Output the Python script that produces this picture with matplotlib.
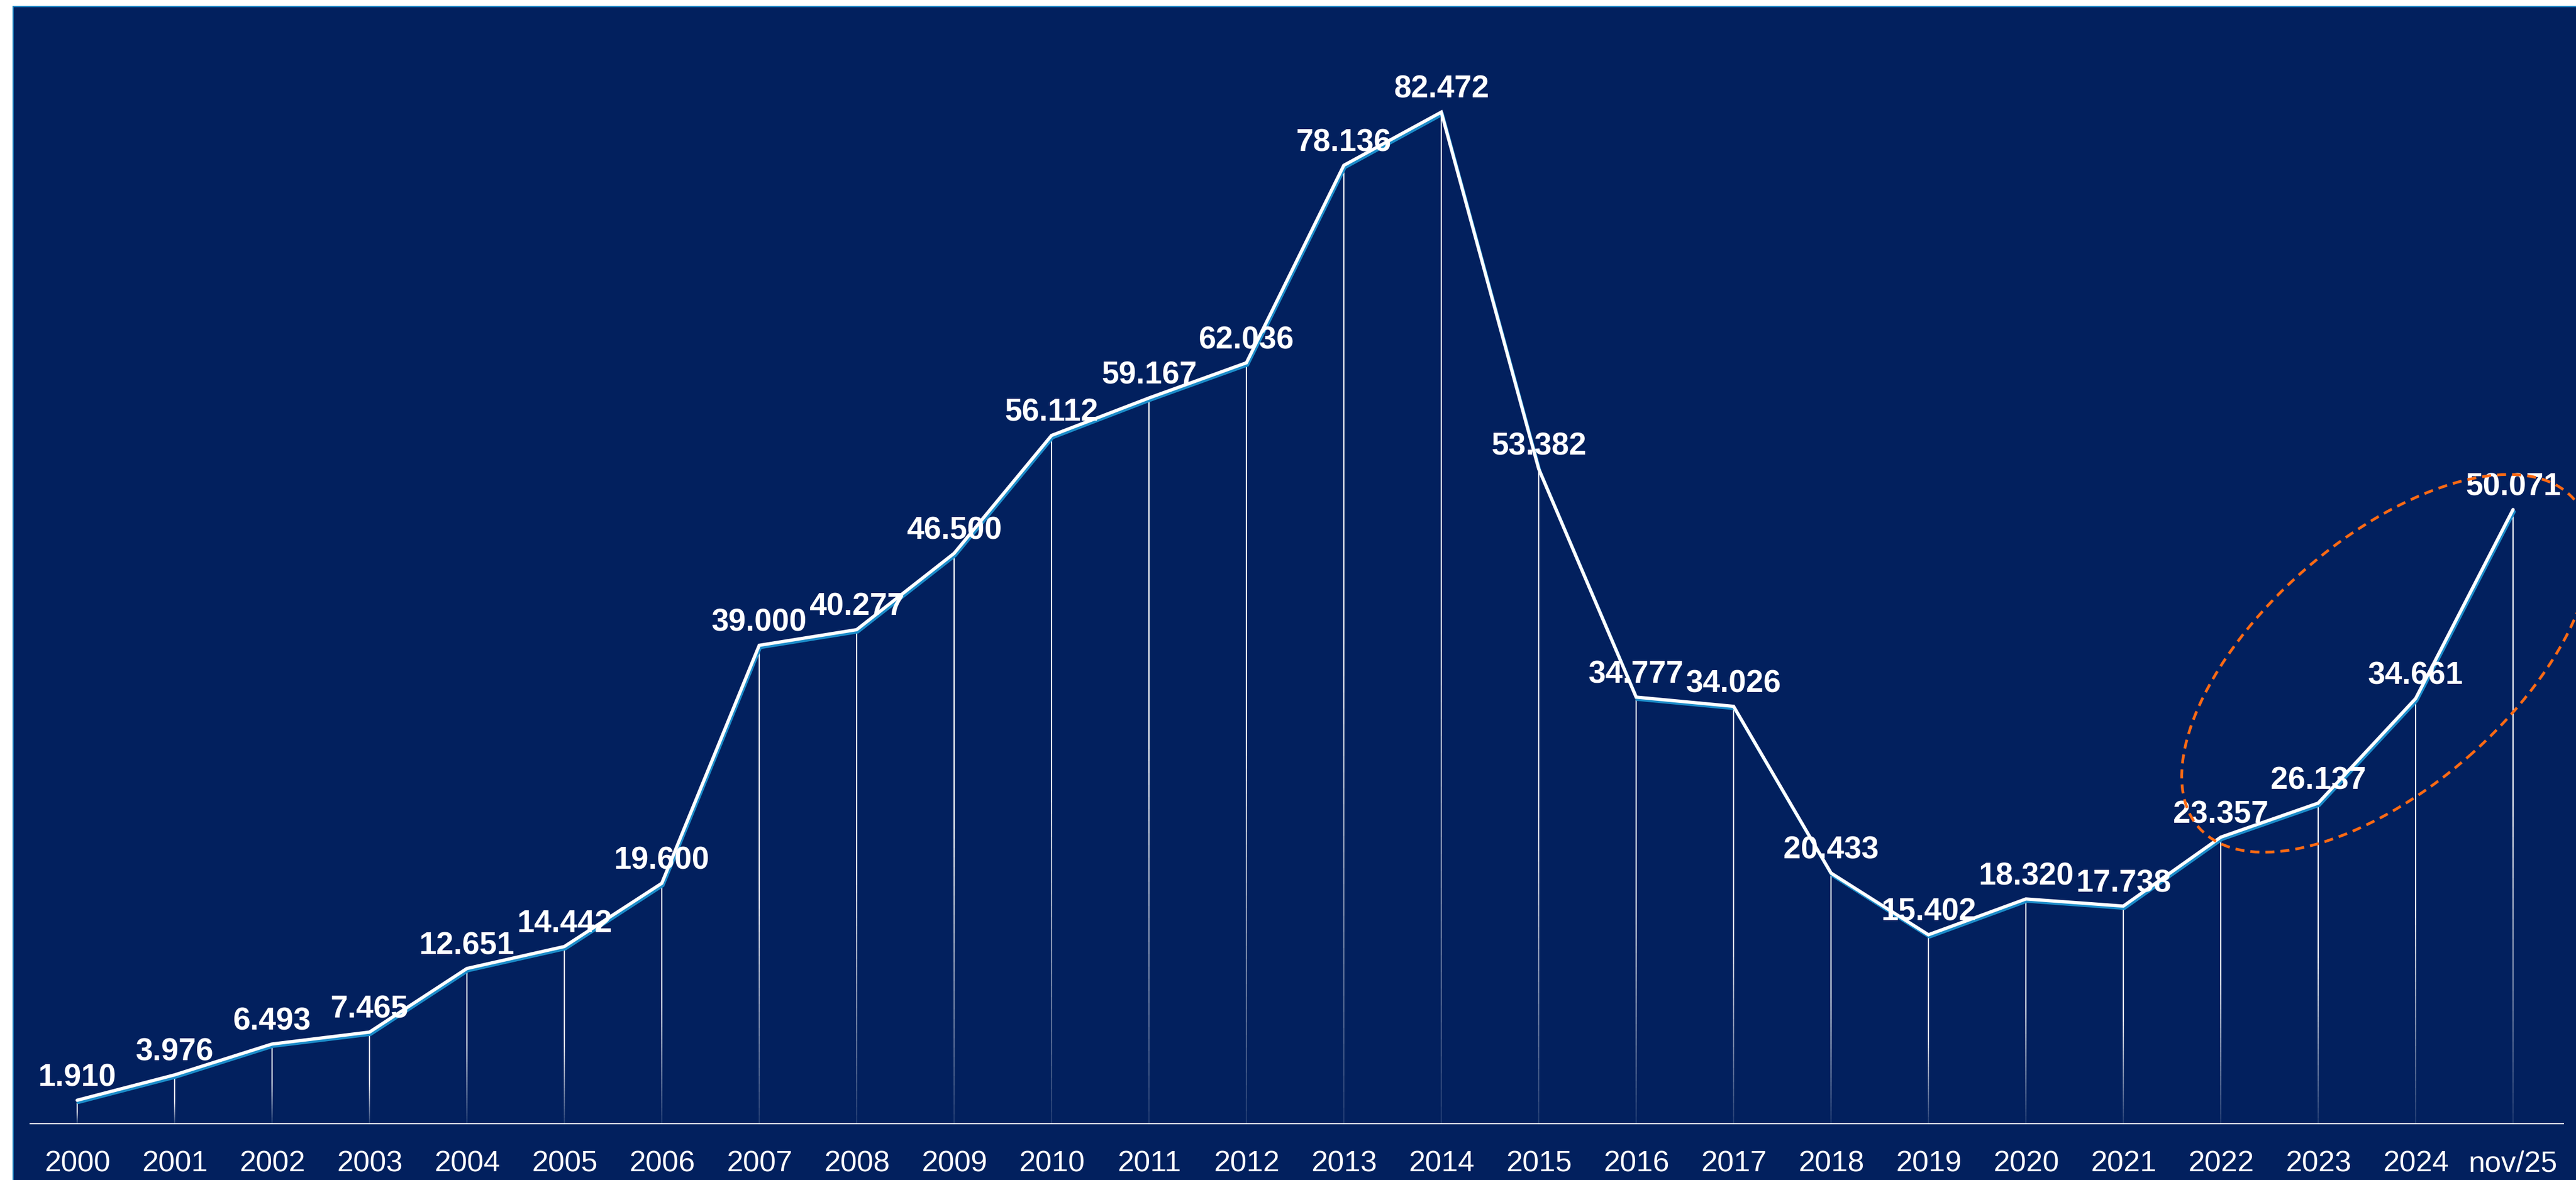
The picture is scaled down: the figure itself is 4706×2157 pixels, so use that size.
import numpy as np
import matplotlib
matplotlib.use("Agg")
import matplotlib.pyplot as plt
import matplotlib.transforms as mtransforms
from matplotlib.patches import Rectangle, Ellipse
from matplotlib.collections import LineCollection

plt.rcParams['font.family'] = ['Liberation Sans', 'DejaVu Sans']

# ---- data ----
categories = ['2000', '2001', '2002', '2003', '2004', '2005', '2006', '2007', '2008',
              '2009', '2010', '2011', '2012', '2013', '2014', '2015', '2016', '2017',
              '2018', '2019', '2020', '2021', '2022', '2023', '2024', 'nov/25']
values = [1910, 3976, 6493, 7465, 12651, 14442, 19600, 39000, 40277, 46500, 56112,
          59167, 62036, 78136, 82472, 53382, 34777, 34026, 20433, 15402, 18320,
          17738, 23357, 26137, 34661, 50071]

W, H = 4706, 2157
BG = '#02205e'
BORDER = '#1a7fbf'
SHADOW = '#1c8cc9'
ORANGE = '#ff6a13'

fig = plt.figure(figsize=(W / 100, H / 100), dpi=100)
fig.patch.set_facecolor('white')

# dark panel with light-blue border (top/left visible)
fig.add_artist(Rectangle((24 / W, -0.05), 1.2, (H - 12) / H + 0.05,
                         transform=fig.transFigure, facecolor=BG,
                         edgecolor=BORDER, linewidth=1.6, zorder=0))

ax = fig.add_axes([0, 0, 1, 1])
ax.patch.set_visible(False)
ax.set_axis_off()

n = len(values)
x = np.arange(n)
y = np.array(values, dtype=float)

px_x0, px_step = 141.0, 178.0          # pixel of first category, spacing
px_axis, px_per_unit = 2054.0, 22.42 / 1000.0
ax.set_xlim(-px_x0 / px_step, (W - px_x0) / px_step)
ax.set_ylim(-(H - px_axis) / px_per_unit, px_axis / px_per_unit)

# gradient drop lines (bright at top, fading toward the axis)
segs, cols = [], []
nseg = 60
for xi, yi in zip(x, y):
    ys = np.linspace(0, yi, nseg + 1)
    for k in range(nseg):
        segs.append([(xi, ys[k]), (xi, ys[k + 1])])
        t = (k + 0.5) / nseg
        cols.append((1, 1, 1, min(1.0, 0.12 + 1.7 * t)))
ax.add_collection(LineCollection(segs, colors=cols, linewidths=1.6, zorder=1))

# axis line
ax.hlines(0, -0.49, n - 1 + 0.52, color='white', linewidth=1.6, zorder=2)

# line with blue shadow
shadow_tr = mtransforms.offset_copy(ax.transData, fig=fig, x=2, y=-4, units='dots')
ax.plot(x, y, color=SHADOW, linewidth=4.3, transform=shadow_tr,
        solid_capstyle='round', solid_joinstyle='miter', zorder=3)
ax.plot(x, y, color='white', linewidth=4.3, solid_capstyle='round',
        solid_joinstyle='miter', zorder=4)

# value labels
for i, (xi, yi) in enumerate(zip(x, y)):
    lbl = f"{int(values[i]):,}".replace(',', '.')
    ax.annotate(lbl, (xi, yi), xytext=(0, 41), textcoords='offset pixels',
                ha='center', va='center', color='white', fontsize=41,
                fontweight='bold', zorder=5)

# category labels
for xi, c in zip(x, categories):
    ax.annotate(c, (xi, 0), xytext=(0, -73), textcoords='offset pixels',
                ha='center', va='center', color='white', fontsize=39, zorder=5)

# highlight ellipse (drawn in pixel space, anchored at data point)
center = ax.transData.transform((23.70, 37530))
ell = Ellipse(center, 911, 454, angle=41.2, transform=mtransforms.IdentityTransform(),
              fill=False, edgecolor=ORANGE, linewidth=3.6,
              linestyle=(0, (3.3, 2.2)), zorder=6)
fig.add_artist(ell)

fig.savefig('out.png', dpi=100, facecolor=fig.get_facecolor())
